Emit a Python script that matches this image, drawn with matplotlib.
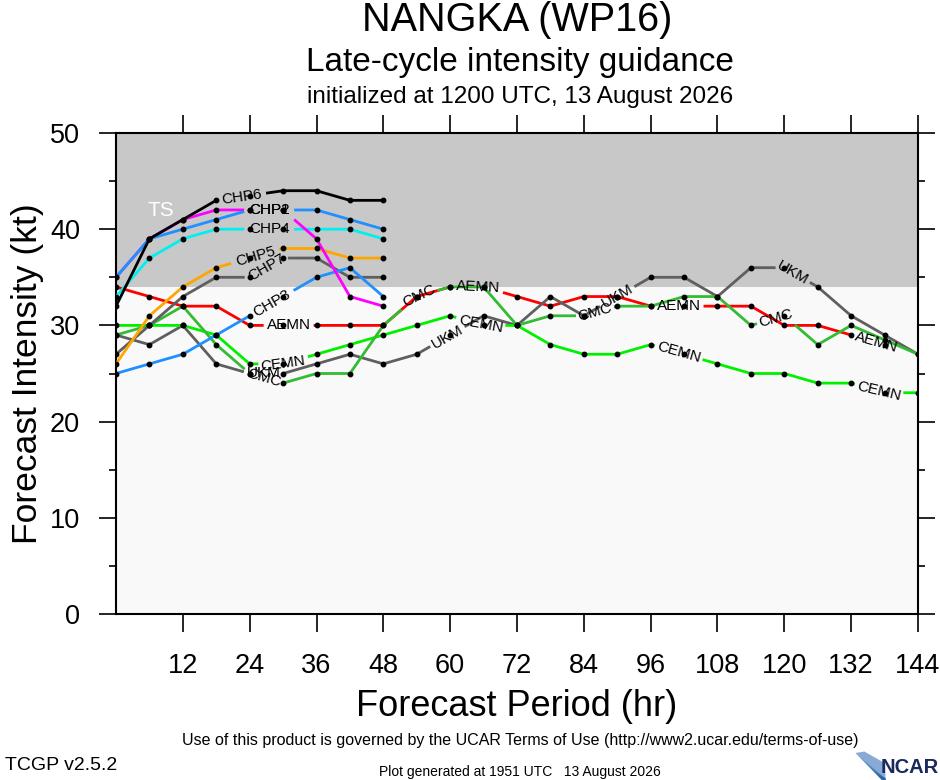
import numpy as np
import matplotlib.pyplot as plt
from matplotlib.patches import Polygon
from matplotlib.ticker import MultipleLocator

plt.rcParams['font.family'] = ['Liberation Sans', 'DejaVu Sans']

nan = np.nan

# forecast hours (every 6 h)
hours = [0, 6, 12, 18, 24, 30, 36, 42, 48, 54, 60, 66, 72,
         78, 84, 90, 96, 102, 108, 114, 120, 126, 132, 138, 144]
chp_hours = hours[:9]

# late-cycle guidance (kt)
aemn = [34, 33, 32, 32, 30, 30, 30, 30, 30, 33, 34, 34, 33,
        32, 33, 33, 32, 32, 32, 32, 30, 30, 29, 28, nan]
cemn = [30, 30, 30, 29, 26, 26, 27, 28, 29, 30, 31, 30, 30,
        28, 27, 27, 28, 27, 26, 25, 25, 24, 24, 23, 23]
cmc = [29, 30, 32, 28, 25, 24, 25, 25, 30, 33, 34, 34, 30,
       31, 31, 32, 32, 33, 33, 30, 31, 28, 30, 28.5, 27]
ukm = [29, 28, 30, 26, 25, 25, 26, 27, 26, 27, 29, 31, 30,
       33, 31, 33, 35, 35, 33, 36, 36, 34, 31, 29, 27]

chp1 = [35, 39, 40, 41, 42, 42, 42, 41, 40]
chp2 = [35, 39, 41, 42, 42, 42, 39, 33, 32]
chp3 = [25, 26, 27, 29, 31, 33, 35, 36, 33]
chp4 = [33, 37, 39, 40, 40, 40, 40, 40, 39]
chp5 = [26, 31, 34, 36, 37, 38, 38, 37, 37]
chp6 = [32, 39, 41, 43, 43.5, 44, 44, 43, 43]
chp7 = [27, 30, 33, 35, 35, 37, 37, 35, 35]

ts_threshold = 34
xticks = [12, 24, 36, 48, 60, 72, 84, 96, 108, 120, 132, 144]

# name, hours, values, colour, where the line labels sit (hr)
series = [
    ('AEMN', hours, aemn, '#ff0000', [31, 65, 101, 136.5]),
    ('UKM', hours, ukm, '#5f5f5f', [26.5, 59.5, 90, 121.5]),
    ('CEMN', hours, cemn, '#00f000', [30, 65.5, 101, 137]),
    ('CMC', hours, cmc, '#33bb33', [26.5, 54.5, 86, 118.5]),
    ('CHP7', chp_hours, chp7, '#5f5f5f', [27]),
    ('CHP5', chp_hours, chp5, '#ffa500', [25]),
    ('CHP3', chp_hours, chp3, '#1e90ff', [28]),
    ('CHP4', chp_hours, chp4, '#00f0f0', [27.5]),
    ('CHP2', chp_hours, chp2, '#ff00ff', [27.5]),
    ('CHP1', chp_hours, chp1, '#1e90ff', [27.5]),
    ('CHP6', chp_hours, chp6, '#000000', [22.5]),
]

fig = plt.figure(figsize=(9.4, 7.8), dpi=100)
ax = fig.add_axes([116/940, 1-614/780, 802/940, 481/780])
ax.set_xlim(0, 144)
ax.set_ylim(0, 50)
ax.set_facecolor('#f9f9f9')
ax.axhspan(ts_threshold, 50, color='#c8c8c8', zorder=0, lw=0)
ax.text(8, 41.9, 'TS', color='white', fontsize=15, ha='center', va='center', zorder=2)

px_hr = (ax.transData.transform((12, 0))[0] - ax.transData.transform((0, 0))[0]) / 12.0


def draw_series(name, hrs, vals, color, label_hrs):
    h = np.array(hrs, float)
    v = np.array(vals, float)
    ok = ~np.isnan(v)
    h, v = h[ok], v[ok]
    xs = list(h)
    gaps = []
    for lh in label_hrs:
        p0 = ax.transData.transform((lh - 1.5, np.interp(lh - 1.5, h, v)))
        p1 = ax.transData.transform((lh + 1.5, np.interp(lh + 1.5, h, v)))
        ang = np.degrees(np.arctan2(p1[1] - p0[1], p1[0] - p0[0]))
        half = (len(name) * 10.5 / 2 + 4) * np.cos(np.radians(ang)) / px_hr
        lo, hi = max(lh - half, h[0]), min(lh + half, h[-1])
        gaps.append((lo, hi))
        xs += [lo, hi, (lo + hi) / 2]
        ax.text(lh, np.interp(lh, h, v), name, rotation=ang, rotation_mode='anchor',
                ha='center', va='center', fontsize=11, color='black', zorder=4)
    xs = np.array(sorted(set(xs)))
    ys = np.interp(xs, h, v)
    for lo, hi in gaps:
        ys[(xs > lo) & (xs < hi)] = nan
    ax.plot(xs, ys, color=color, lw=2.0, zorder=3, solid_capstyle='butt')
    ax.plot(h, v, 'o', color='black', ms=3.2, zorder=5)


for name, hrs, vals, color, lab in series:
    draw_series(name, hrs, vals, color, lab)

ax.set_xticks(xticks)
ax.yaxis.set_major_locator(MultipleLocator(10))
ax.yaxis.set_minor_locator(MultipleLocator(5))
ax.tick_params(axis='y', which='major', direction='out', length=12, width=1.2,
               left=True, right=True, labelsize=19.5, pad=14)
ax.tick_params(axis='y', which='minor', direction='out', length=5, width=1.2,
               left=True, right=True)
ax.tick_params(axis='x', which='major', direction='out', length=13, width=1.2,
               bottom=True, top=True, labelsize=19.5, pad=15)
for sp in ax.spines.values():
    sp.set_linewidth(1.5)

ax.set_xlabel('Forecast Period (hr)', fontsize=26)
ax.xaxis.set_label_coords(0.5, (614 - 707) / 481)
ax.xaxis.label.set_va('center')
ax.set_ylabel('Forecast Intensity (kt)', fontsize=25.5)
ax.yaxis.set_label_coords((27 - 116) / 802, 0.5)
ax.yaxis.label.set_va('center')

fig.text(517/940, 1-20/780, 'NANGKA (WP16)', fontsize=28.5, ha='center', va='center')
fig.text(520/940, 1-62/780, 'Late-cycle intensity guidance', fontsize=24, ha='center', va='center')
fig.text(520/940, 1-97/780, 'initialized at 1200 UTC, 13 August 2026', fontsize=17.5,
         ha='center', va='center')

fig.text(520/940, 1-741/780, 'Use of this product is governed by the UCAR Terms of Use '
         '(http://www2.ucar.edu/terms-of-use)', fontsize=11.5, ha='center', va='center')
fig.text(5/940, 1-765/780, 'TCGP v2.5.2', fontsize=14, ha='left', va='center')
fig.text(520/940, 1-772/780, 'Plot generated at 1951 UTC   13 August 2026', fontsize=10,
         ha='center', va='center')

# NCAR logo
lax = fig.add_axes([852/940, 0, 88/940, 30/780])
lax.set_xlim(0, 1)
lax.set_ylim(0, 1)
lax.axis('off')
blues = ['#b9d3ee', '#7ea9dc', '#4f86c6', '#2d65ad', '#1d4d92']
for i, c in enumerate(blues):
    t0 = i / len(blues)
    t1 = (i + 1) / len(blues)
    lax.add_patch(Polygon([[0.04 + 0.3 * t0, 0.9 - 0.9 * t0], [0.04 + 0.3 * t1, 0.9 - 0.9 * t1],
                           [0.38, 0.0], [0.38, 0.05]], closed=True, color=c, lw=0))
lax.add_patch(Polygon([[0.04, 0.9], [0.14, 0.95], [0.38, 0.55], [0.38, 0.0], [0.34, 0.0]],
                      closed=True, color='#3a72b8', lw=0, alpha=0.6))
lax.text(0.985, 0.42, 'NCAR', fontsize=14.5, fontweight='bold', color='#1b2a5c',
         ha='right', va='center')

fig.savefig('out.png', dpi=100)
